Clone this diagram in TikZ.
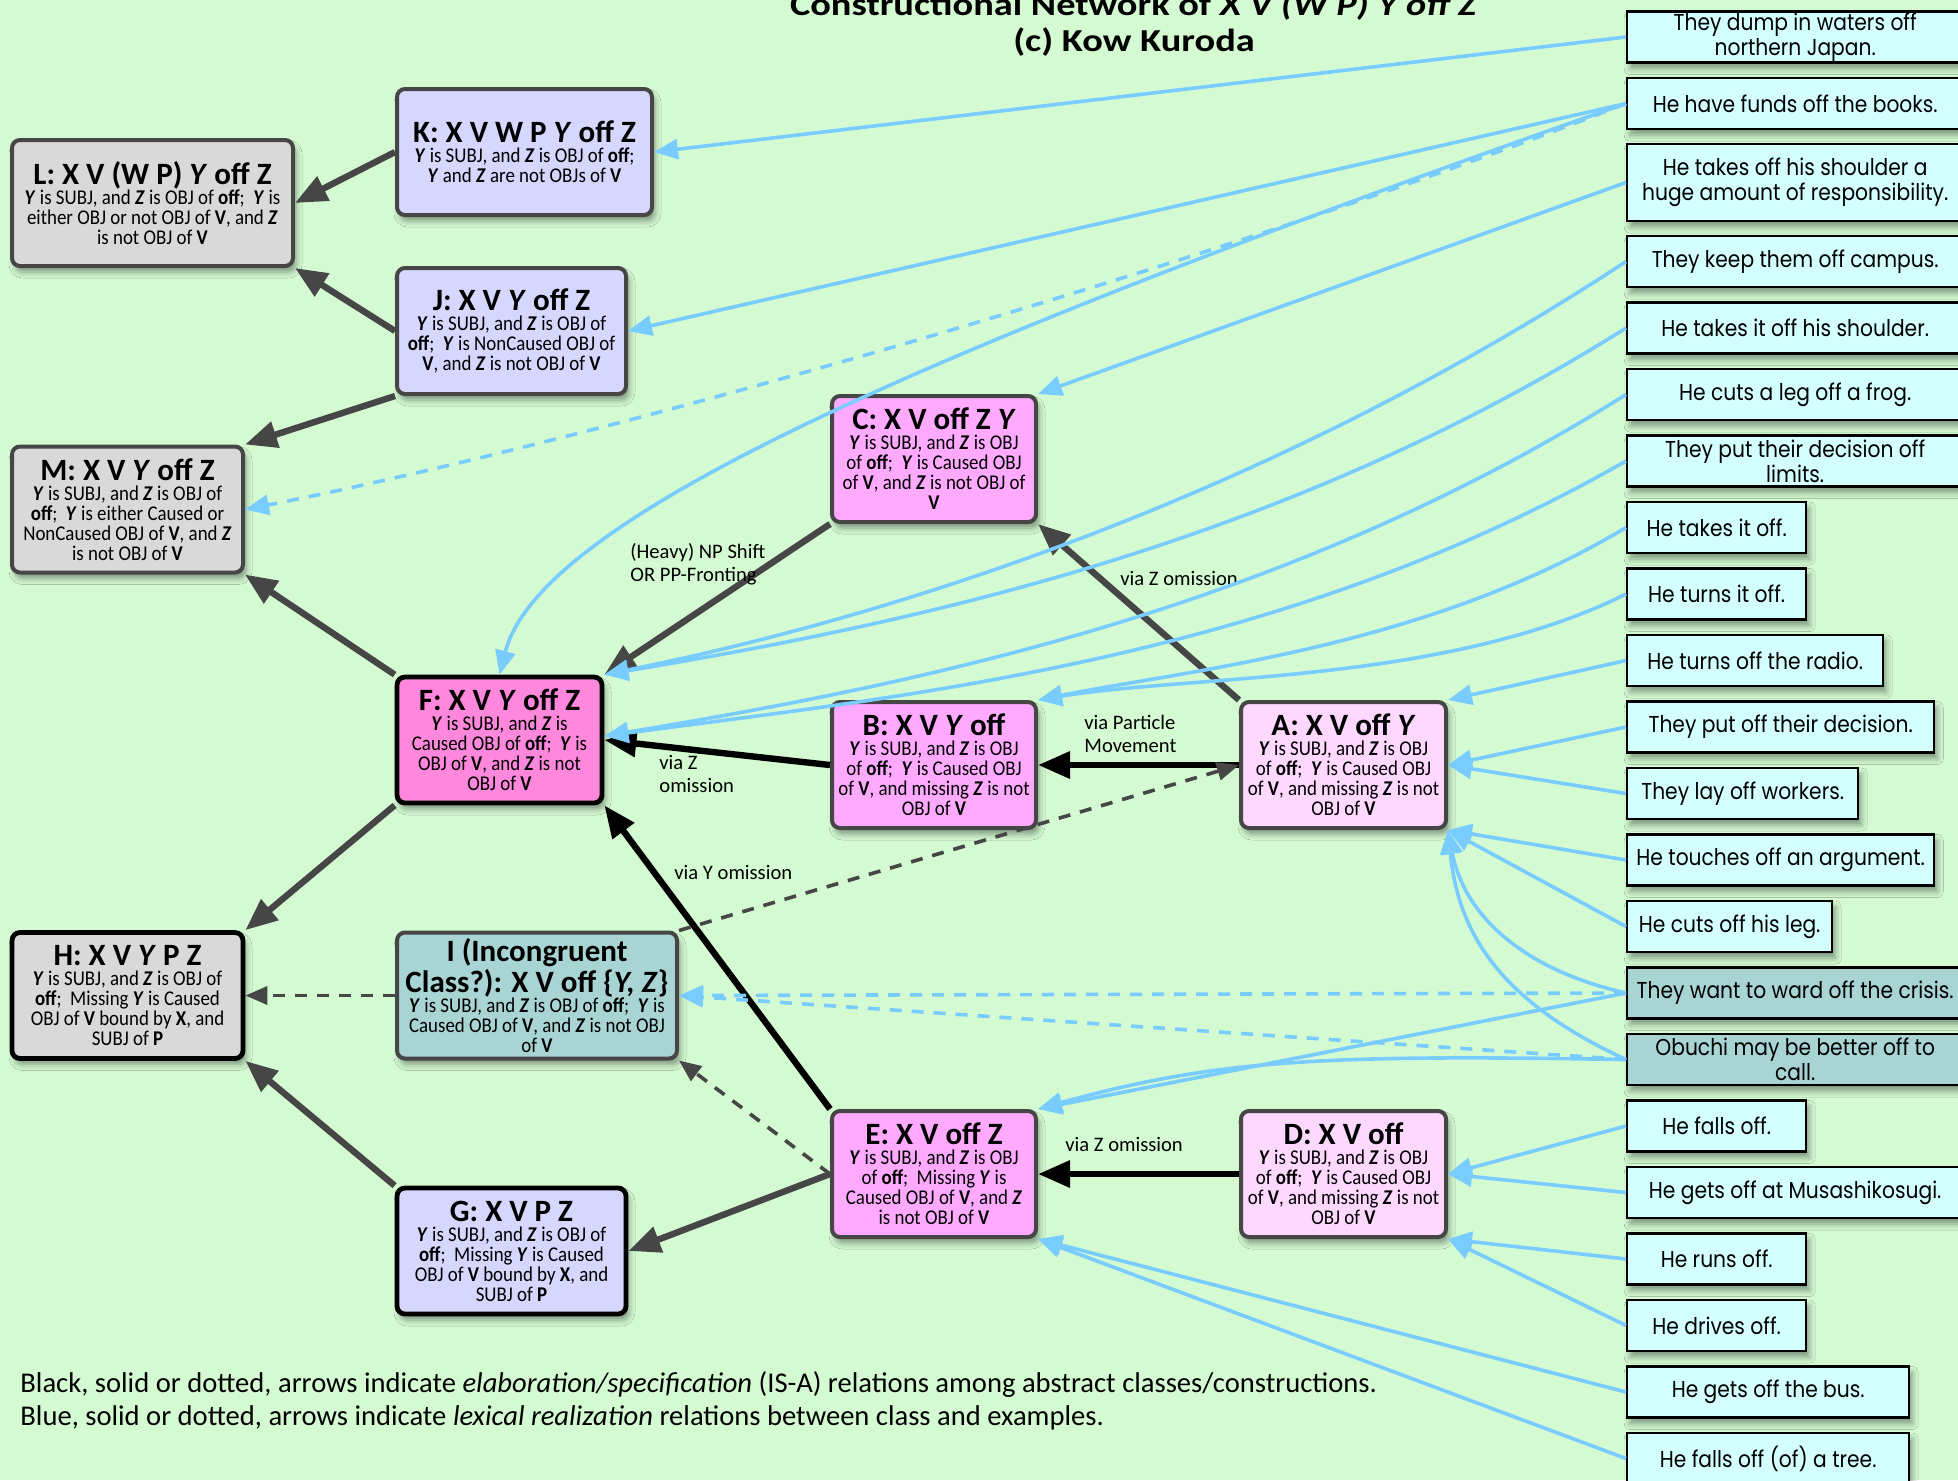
\documentclass[tikz,border=0pt]{standalone}
\usepackage{fontspec}
\usetikzlibrary{arrows.meta,shadows.blur}
\setmainfont{Carlito}
\newfontfamily\boxfont[FakeStretch=0.9]{Carlito}
\newfontfamily\headfont[FakeStretch=1.2]{Carlito}
\newfontfamily\exfont[FakeStretch=0.88]{Poppins}

\definecolor{meadow}{RGB}{212,250,210}
\definecolor{greybox}{RGB}{217,217,217}
\definecolor{lavender}{RGB}{214,214,255}
\definecolor{orchid}{RGB}{255,170,255}
\definecolor{hotpink}{RGB}{255,136,221}
\definecolor{blush}{RGB}{255,216,255}
\definecolor{slate}{RGB}{168,212,212}
\definecolor{icefill}{RGB}{212,255,255}
\definecolor{skyline}{RGB}{120,204,255}
\definecolor{edgegrey}{RGB}{70,70,70}

\newcommand{\Yb}{\textbf{\textit{Y}}}
\newcommand{\Zb}{\textbf{\textit{Z}}}
\newcommand{\Vb}{\textbf{V}}
\newcommand{\Xb}{\textbf{X}}
\newcommand{\Pb}{\textbf{P}}
\newcommand{\offb}{\textbf{off}}
\newcommand{\boxhead}[1]{{\rmfamily\fontsize{15.5}{16}\selectfont\bfseries #1}}

\tikzset{
  cls/.style={rectangle, rounded corners=4pt, draw=edgegrey, line width=2pt, align=center,
    minimum height=63pt, inner sep=1pt, font=\boxfont\fontsize{10.5}{10}\selectfont,
    blur shadow={shadow xshift=1.5pt, shadow yshift=-3pt, shadow opacity=40, shadow blur radius=3pt}},
  ex/.style={rectangle, draw=black, line width=1.2pt, fill=icefill, anchor=west, align=center,
    minimum height=25.5pt, inner sep=0pt, font=\exfont\fontsize{11.5}{12.5}\selectfont,
    blur shadow={shadow xshift=1.5pt, shadow yshift=-3pt, shadow opacity=40, shadow blur radius=3pt}},
  note/.style={anchor=west, align=left, inner sep=0pt, font=\fontsize{10.3}{11.5}\selectfont},
  legend/.style={anchor=west, inner sep=0pt, font=\fontsize{14.3}{16}\selectfont},
  isa/.style={draw=edgegrey, line width=3.2pt, -{Triangle[length=16pt,width=13pt]}},
  isablack/.style={isa, draw=black},
  isadash/.style={draw=edgegrey, line width=1.8pt, dash pattern=on 6pt off 5pt, -{Triangle[length=11pt,width=9pt]}},
  lex/.style={draw=skyline, line width=1.8pt, -{Triangle[length=12pt,width=10pt]}},
  lexdash/.style={lex, dash pattern=on 6pt off 5pt}
}

\begin{document}
\begin{tikzpicture}[x=0.5pt,y=-0.5pt]
  \useasboundingbox (0,0) rectangle (1958,1480);
  \fill[meadow] (0,0) rectangle (1958,1480);

  % title
  \node[anchor=base, font=\headfont\fontsize{16}{18}\selectfont\bfseries] (title) at (1134,15) {Constructional Network of \textit{X V (W P) Y off Z}};
  \node[anchor=base, font=\headfont\fontsize{16}{18}\selectfont\bfseries] (author) at (1134,51) {(c) Kow Kuroda};

  % classes
  \node[cls, fill=lavender, minimum width=127.5pt] (K) at (524.5,152) {\boxhead{K: X V W P \textit{Y} off Z}\\ \Yb{} is SUBJ, and \Zb{} is OBJ of \offb;\\ \Yb{} and \Zb{} are not OBJs of \Vb};
  \node[cls, fill=greybox, minimum width=140.5pt] (L) at (152.5,203) {\boxhead{L: X V (W P) \textit{Y} off Z}\\ \Yb{} is SUBJ, and \Zb{} is OBJ of \offb;\ \ \Yb{} is\\ either OBJ or not OBJ of \Vb, and \Zb\\ is not OBJ of \Vb};
  \node[cls, fill=lavender, minimum width=114.5pt] (J) at (511.5,331) {\boxhead{J: X V \textit{Y} off Z}\\ \Yb{} is SUBJ, and \Zb{} is OBJ of\\ \offb;\ \ \Yb{} is NonCaused OBJ of\\ \Vb, and \Zb{} is not OBJ of \Vb};
  \node[cls, fill=greybox, minimum width=115.5pt] (M) at (127.5,509.5) {\boxhead{M: X V \textit{Y} off Z}\\ \Yb{} is SUBJ, and \Zb{} is OBJ of\\ \offb;\ \ \Yb{} is either Caused or\\ NonCaused OBJ of \Vb, and \Zb\\ is not OBJ of \Vb};
  \node[cls, fill=orchid, minimum width=102pt] (C) at (934,459) {\boxhead{C: X V off Z \textit{Y}}\\ \Yb{} is SUBJ, and \Zb{} is OBJ\\ of \offb;\ \ \Yb{} is Caused OBJ\\ of \Vb, and \Zb{} is not OBJ of\\ \Vb};
  \node[cls, fill=hotpink, draw=black, line width=2.4pt, minimum width=102.5pt] (F) at (499.5,740) {\boxhead{F: X V \textit{Y} off Z}\\ \Yb{} is SUBJ, and \Zb{} is\\ Caused OBJ of \offb;\ \ \Yb{} is\\ OBJ of \Vb, and \Zb{} is not\\ OBJ of \Vb};
  \node[cls, fill=orchid, minimum width=102pt] (B) at (934,765) {\boxhead{B: X V \textit{Y} off}\\ \Yb{} is SUBJ, and \Zb{} is OBJ\\ of \offb;\ \ \Yb{} is Caused OBJ\\ of \Vb, and missing \Zb{} is not\\ OBJ of \Vb};
  \node[cls, fill=blush, minimum width=102.5pt] (A) at (1343.5,765) {\boxhead{A: X V off \textit{Y}}\\ \Yb{} is SUBJ, and \Zb{} is OBJ\\ of \offb;\ \ \Yb{} is Caused OBJ\\ of \Vb, and missing \Zb{} is not\\ OBJ of \Vb};
  \node[cls, fill=greybox, draw=black, line width=2.4pt, minimum width=115.5pt] (H) at (127.5,995.5) {\boxhead{H: X V \textit{Y} P Z}\\ \Yb{} is SUBJ, and \Zb{} is OBJ of\\ \offb;\ \ Missing \Yb{} is Caused\\ OBJ of \Vb{} bound by \Xb, and\\ SUBJ of \Pb};
  \node[cls, fill=slate, minimum width=140pt] (I) at (537,995.5) {\boxhead{I (Incongruent}\\ \boxhead{Class?): X V off \{\textit{Y, Z}\}}\\ \Yb{} is SUBJ, and \Zb{} is OBJ of \offb;\ \ \Yb{} is\\ Caused OBJ of \Vb, and \Zb{} is not OBJ\\ of \Vb};
  \node[cls, fill=orchid, minimum width=102pt] (E) at (934,1174) {\boxhead{E: X V off Z}\\ \Yb{} is SUBJ, and \Zb{} is OBJ\\ of \offb;\ \ Missing \Yb{} is\\ Caused OBJ of \Vb, and \Zb\\ is not OBJ of \Vb};
  \node[cls, fill=blush, minimum width=102.5pt] (D) at (1343.5,1174) {\boxhead{D: X V off}\\ \Yb{} is SUBJ, and \Zb{} is OBJ\\ of \offb;\ \ \Yb{} is Caused OBJ\\ of \Vb, and missing \Zb{} is not\\ OBJ of \Vb};
  \node[cls, fill=lavender, draw=black, line width=2.4pt, minimum width=114.5pt] (G) at (511.5,1251) {\boxhead{G: X V P Z}\\ \Yb{} is SUBJ, and \Zb{} is OBJ of\\ \offb;\ \ Missing \Yb{} is Caused\\ OBJ of \Vb{} bound by \Xb, and\\ SUBJ of \Pb};

  % examples
  \foreach \name/\yc/\bw/\txt in {dump/37/336/{They dump in waters off\\northern Japan.},
      funds/103.5/336/{He have funds off the books.},
      campus/261.5/336/{They keep them off campus.},
      shoulderB/328/336/{He takes it off his shoulder.},
      frog/394.5/336/{He cuts a leg off a frog.},
      limits/461/336/{They put their decision off\\limits.},
      takes/527.5/179/{He takes it off.},
      turnsit/594/179/{He turns it off.},
      radio/660.5/256/{He turns off the radio.},
      putoff/727/307/{They put off their decision.},
      layoff/793.5/231/{They lay off workers.},
      touches/860/307/{He touches off an argument.},
      cutsleg/926.5/205/{He cuts off his leg.},
      falls/1126/179/{He falls off.},
      gets/1192.5/336/{He gets off at Musashikosugi.},
      runs/1259/179/{He runs off.},
      drives/1325.5/179/{He drives off.},
      bus/1392/282/{He gets off the bus.},
      tree/1458.5/282/{He falls off (of) a tree.}}{
    \node[ex, minimum width=\bw*0.5pt] (\name) at (1626,\yc) {\txt};
  }
  \node[ex, minimum width=168pt, minimum height=38.5pt] (shoulderA) at (1626,182.5) {He takes off his shoulder a\\huge amount of responsibility.};
  \node[ex, fill=slate, minimum width=168pt] (ward) at (1626,993) {They want to ward off the crisis.};
  \node[ex, fill=slate, minimum width=168pt] (obuchi) at (1626,1059.5) {Obuchi may be better off to\\call.};

  % elaboration links
  \draw[isa] (K.west) -- (L.east);
  \draw[isa] (J.west) -- (L.south east);
  \draw[isa] (J.south west) -- (M.north east);
  \draw[isa] (F.north west) -- (M.south east);
  \draw[isa] (F.south west) -- (H.north east);
  \draw[isa] (G.north west) -- (H.south east);
  \draw[isa] (E.west) -- (G.east);
  \draw[isa] (C.south west) -- (F.north east);
  \draw[isa] (A.north west) -- (C.south east);
  \draw[isablack] (B.west) -- (F.east);
  \draw[isablack] (A.west) -- (B.east);
  \draw[isablack] (E.north west) -- (F.south east);
  \draw[isablack] (D.west) -- (E.east);
  \draw[isadash] (I.west) -- (H.east);
  \draw[isadash] (I.north east) -- (A.west);
  \draw[isadash] (E.west) -- (I.south east);

  \node[note] (heavy) at (630,564) {(Heavy) NP Shift\\OR PP-Fronting};
  \node[note] (viaZc) at (1120,578) {via Z omission};
  \node[note] (viaPart) at (1084,734) {via Particle\\Movement};
  \node[note] (viaZf) at (659,774) {via Z\\omission};
  \node[note] (viaY) at (674,872) {via Y omission};
  \node[note] (viaZe) at (1065,1144) {via Z omission};

  % realization links, straight
  \foreach \src/\dst in {dump/K.east, funds/J.east, shoulderA/C.north east, radio/A.north east,
      putoff/A.east, layoff/A.east, touches/A.south east, cutsleg/A.south east, ward/E.north east,
      falls/D.east, gets/D.east, runs/D.south east, drives/D.south east, bus/E.south east, tree/E.south east}{
    \draw[lex] (\src.west) -- (\dst);
  }
  \draw[lexdash] (ward.west) -- (I.east);
  \draw[lexdash] (obuchi.west) -- (I.east);

  % realization links, curved
  \draw[lexdash] (funds.west) .. controls +(-400,157) and +(357,-70) .. (M.east);
  \draw[lex] (funds.west) .. controls +(-700,245) and +(40,-157) .. (F.north);
  \draw[lex] (campus.west) .. controls +(-350,230) and +(300,-60) .. (F.north east);
  \draw[lex] (shoulderB.west) .. controls +(-350,220) and +(300,-50) .. (F.north east);
  \draw[lex] (frog.west) .. controls +(-350,220) and +(300,-50) .. ([yshift=2pt]F.east);
  \draw[lex] (limits.west) .. controls +(-350,200) and +(300,-40) .. ([yshift=2pt]F.east);
  \draw[lex] (takes.west) .. controls +(-200,120) and +(150,-30) .. (B.north east);
  \draw[lex] (turnsit.west) .. controls +(-180,90) and +(150,-25) .. (B.north east);
  \draw[lex] (ward.west) .. controls +(-110,-25) and +(15,80) .. (A.south east);
  \draw[lex] (obuchi.west) .. controls +(-130,-60) and +(10,100) .. (A.south east);
  \draw[lex] (obuchi.west) .. controls +(-300,-5) and +(180,-50) .. (E.north east);

  % legend
  \node[legend] (legendA) at (20,1384) {Black, solid or dotted, arrows indicate \textit{elaboration/specification} (IS-A) relations among abstract classes/constructions.};
  \node[legend] (legendB) at (20,1418) {Blue, solid or dotted, arrows indicate \textit{lexical realization} relations between class and examples.};
\end{tikzpicture}
\end{document}
